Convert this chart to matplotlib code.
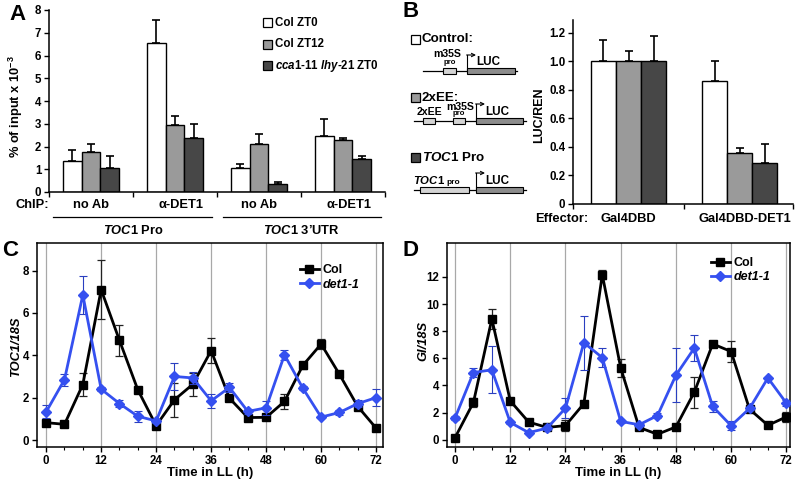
import numpy as np
import matplotlib
matplotlib.use('Agg')
import matplotlib.pyplot as plt
from matplotlib.patches import Rectangle
from matplotlib import transforms
from matplotlib.ticker import MultipleLocator, FixedLocator, FuncFormatter

plt.rcParams['font.family'] = ['Liberation Sans', 'DejaVu Sans']
plt.rcParams['font.weight'] = 'bold'
plt.rcParams['axes.labelweight'] = 'bold'
plt.rcParams['mathtext.fontset'] = 'custom'
plt.rcParams['mathtext.rm'] = 'Liberation Sans:bold'
plt.rcParams['mathtext.it'] = 'Liberation Sans:italic:bold'
plt.rcParams['mathtext.bf'] = 'Liberation Sans:bold'

# ---- data: panel A (ChIP) ----
chip_labels = ['no Ab', 'α-DET1', 'no Ab', 'α-DET1']
col_zt0 = [1.37, 6.53, 1.06, 2.47]
col_zt0_err = [0.49, 1.03, 0.19, 0.73]
col_zt12 = [1.76, 2.94, 2.13, 2.28]
col_zt12_err = [0.34, 0.39, 0.41, 0.10]
cca_zt0 = [1.06, 2.38, 0.37, 1.44]
cca_zt0_err = [0.51, 0.60, 0.07, 0.16]

# ---- data: panel B (LUC/REN) ----
effectors = ['Gal4DBD', 'Gal4DBD-DET1']
luc_control = [1.0, 0.86]
luc_control_err = [0.15, 0.14]
luc_2xee = [1.0, 0.357]
luc_2xee_err = [0.07, 0.035]
luc_toc1 = [1.0, 0.288]
luc_toc1_err = [0.18, 0.13]

# ---- data: panels C and D (time courses) ----
time_ll = [0, 4, 8, 12, 16, 20, 24, 28, 32, 36, 40, 44, 48, 52, 56, 60, 64, 68, 72]
toc1_col = [0.82, 0.74, 2.62, 7.1, 4.7, 2.37, 0.68, 1.9, 2.63, 4.22, 1.97, 1.06, 1.07, 1.82, 3.52, 4.53, 3.1, 1.58, 0.56]
toc1_col_err = [0.1, 0.08, 0.55, 1.4, 0.72, 0.12, 0.1, 0.8, 0.55, 0.6, 0.15, 0.1, 0.1, 0.35, 0.15, 0.22, 0.1, 0.15, 0.1]
toc1_det1 = [1.33, 2.85, 6.85, 2.4, 1.72, 1.12, 0.9, 3.0, 2.93, 1.85, 2.48, 1.35, 1.52, 4.02, 2.45, 1.08, 1.3, 1.72, 2.0]
toc1_det1_err = [0.3, 0.28, 0.9, 0.1, 0.15, 0.25, 0.1, 0.65, 0.28, 0.32, 0.22, 0.1, 0.33, 0.25, 0.1, 0.05, 0.1, 0.15, 0.4]
gi_col = [0.15, 2.75, 8.9, 2.86, 1.3, 0.9, 1.04, 2.66, 12.17, 5.3, 0.9, 0.4, 0.94, 3.5, 7.06, 6.5, 2.25, 1.06, 1.68]
gi_col_err = [0.1, 0.35, 0.75, 0.1, 0.1, 0.1, 0.4, 0.1, 0.35, 0.65, 0.1, 0.1, 0.1, 1.15, 0.1, 0.8, 0.1, 0.1, 0.35]
gi_det1 = [1.6, 4.95, 5.15, 1.27, 0.52, 0.85, 2.32, 7.15, 6.05, 1.35, 1.1, 1.78, 4.75, 6.75, 2.45, 1.03, 2.3, 4.55, 2.7]
gi_det1_err = [0.15, 0.35, 1.72, 0.1, 0.1, 0.1, 0.72, 2.0, 0.7, 0.1, 0.1, 0.15, 2.0, 0.95, 0.4, 0.35, 0.1, 0.1, 0.25]

WHITE, GRAY, DARK = 'white', '#9a9a9a', '#474747'
BLUE = '#3550f0'
W, H = 800, 479
TICK_FS = 8.3

fig = plt.figure(figsize=(8, 4.79), dpi=100)


def px_axes(l, t, r, b):
    return [l / W, 1 - b / H, (r - l) / W, (b - t) / H]


# overlay in pixel coordinates for annotations / schematic
ov = fig.add_axes([0, 0, 1, 1], zorder=10)
ov.set_xlim(0, W)
ov.set_ylim(H, 0)
ov.axis('off')
ov.patch.set_alpha(0)


def bar_style(ax):
    for s in ['top', 'right']:
        ax.spines[s].set_visible(False)
    for s in ['left', 'bottom']:
        ax.spines[s].set_linewidth(1.1)
    ax.tick_params(direction='out', length=3.5, width=1.0, labelsize=TICK_FS, pad=2)


# ---------------- panel A ----------------
axA = fig.add_axes(px_axes(49, 10, 385, 192))
bar_style(axA)
xa = np.arange(len(chip_labels))
bw = 0.226
for off, vals, errs, c in [(-bw, col_zt0, col_zt0_err, WHITE),
                           (0, col_zt12, col_zt12_err, GRAY),
                           (bw, cca_zt0, cca_zt0_err, DARK)]:
    axA.bar(xa + off, vals, bw, color=c, edgecolor='black', linewidth=1.0, zorder=2)
    axA.errorbar(xa + off, vals, yerr=[np.zeros(len(vals)), errs], fmt='none',
                 ecolor='black', elinewidth=1.2, capsize=2.8, capthick=1.2, zorder=1)
axA.set_xlim(-0.5, 3.5)
axA.set_ylim(0, 8)
axA.set_yticks(range(0, 9))
axA.xaxis.set_major_locator(FixedLocator([-0.5, 0.5, 1.5, 2.5, 3.5]))
axA.set_xticklabels([])
axA.set_ylabel('% of input x 10$^{-3}$', fontsize=9.3)
axA.yaxis.set_label_coords(-0.071, 0.47)

trA = transforms.blended_transform_factory(axA.transData, ov.transData)
ov.text(16, 205, 'ChIP:', fontsize=9.3, va='center', ha='left')
for i, lab in enumerate(chip_labels):
    ov.text(xa[i] + (0.07 if i % 2 else 0), 205, lab, transform=trA, fontsize=9.3,
            ha='center', va='center')
ov.plot([53, 212], [217, 217], color='black', lw=0.9)
ov.plot([223, 381], [217, 217], color='black', lw=0.9)
ov.text(0.5, 230, r'$\mathit{TOC1}$ Pro', transform=trA, fontsize=9.3, ha='center', va='center')
ov.text(2.5, 230, r'$\mathit{TOC1}$ 3’UTR', transform=trA, fontsize=9.3, ha='center', va='center')

# legend A
leg_rows = [(WHITE, 'Col ZT0'), (GRAY, 'Col ZT12'),
            (DARK, r'$\mathit{cca1}$-$\mathit{11}$ $\mathit{lhy}$-$\mathit{21}$ ZT0')]
for k, (c, lab) in enumerate(leg_rows):
    yc = 22.5 + 21.7 * k
    ov.add_patch(Rectangle((263, yc - 4.5), 9, 9, facecolor=c, edgecolor='black', lw=0.9))
    ov.text(275, yc, lab, fontsize=8.3, va='center', ha='left')

ov.text(9, 14, 'A', fontsize=16, va='center', ha='left')

# ---------------- panel B ----------------
axB = fig.add_axes(px_axes(573, 20, 793, 204))
bar_style(axB)
xb = np.arange(len(effectors))
for off, vals, errs, c in [(-bw, luc_control, luc_control_err, WHITE),
                           (0, luc_2xee, luc_2xee_err, GRAY),
                           (bw, luc_toc1, luc_toc1_err, DARK)]:
    axB.bar(xb + off, vals, bw, color=c, edgecolor='black', linewidth=1.0, zorder=2)
    axB.errorbar(xb + off, vals, yerr=[np.zeros(len(vals)), errs], fmt='none',
                 ecolor='black', elinewidth=1.2, capsize=2.8, capthick=1.2, zorder=1)
axB.set_xlim(-0.5, 1.48)
axB.set_ylim(0, 1.29)
axB.set_yticks([0, 0.2, 0.4, 0.6, 0.8, 1.0, 1.2])
axB.yaxis.set_major_formatter(FuncFormatter(lambda v, p: '0' if v == 0 else f'{v:.1f}'))
axB.xaxis.set_major_locator(FixedLocator([-0.5, 0.5, 1.48]))
axB.set_xticklabels([])
axB.set_ylabel('LUC/REN', fontsize=9)
axB.yaxis.set_label_coords(-0.125, 0.48)

trB = transforms.blended_transform_factory(axB.transData, ov.transData)
ov.text(535, 219, 'Effector:', fontsize=9.3, va='center', ha='left')
ov.text(0, 219, effectors[0], transform=trB, fontsize=9.3, va='center', ha='center')
ov.text(1.05, 219, effectors[1], transform=trB, fontsize=9.3, va='center', ha='center')

ov.text(403, 11, 'B', fontsize=16, va='center', ha='left')


# schematic
def promoter_arrow(x, ybase, ytop):
    ov.plot([x, x], [ybase, ytop], color='black', lw=0.8)
    ov.annotate('', xy=(x + 9, ytop), xytext=(x - 0.4, ytop),
                arrowprops=dict(arrowstyle='->', lw=0.8, color='black',
                                shrinkA=0, shrinkB=0, mutation_scale=6))


def box(x0, x1, yc, c):
    ov.add_patch(Rectangle((x0, yc - 3), x1 - x0, 6, facecolor=c, edgecolor='black', lw=0.8, zorder=3))


LIGHT = '#d4d4d4'
LUCC = '#8c8c8c'
# key squares
for yc, c, lab in [(39, WHITE, 'Control:'), (97.5, GRAY, '2xEE:'), (157.5, DARK, r'$\mathit{TOC1}$ Pro')]:
    ov.add_patch(Rectangle((411, yc - 4.5), 9, 9, facecolor=c, edgecolor='black', lw=0.9))
    ov.text(422, yc, lab, fontsize=9.6, va='center', ha='left')

# row 1: control
ov.plot([423, 517], [71, 71], color='black', lw=0.9)
box(443, 456, 71, LIGHT)
ov.text(447, 54, 'm35S', fontsize=7.6, ha='center', va='center')
ov.text(449.5, 62.5, 'pro', fontsize=5.6, ha='center', va='center')
promoter_arrow(467, 71, 55)
box(467, 515, 71, LUCC)
ov.text(488, 61.5, 'LUC', fontsize=8.4, ha='center', va='center')

# row 2: 2xEE
ov.plot([414, 526], [121, 121], color='black', lw=0.9)
box(423, 435, 121, LIGHT)
ov.text(429, 112, '2xEE', fontsize=7.6, ha='center', va='center')
box(453, 465, 121, LIGHT)
ov.text(460, 106.5, 'm35S', fontsize=7.6, ha='center', va='center')
ov.text(459, 113.5, 'pro', fontsize=5.6, ha='center', va='center')
promoter_arrow(476, 121, 104)
box(476, 523, 121, LUCC)
ov.text(497, 112, 'LUC', fontsize=8.4, ha='center', va='center')

# row 3: TOC1 promoter
ov.plot([414, 526], [190, 190], color='black', lw=0.9)
box(420, 469, 190, LIGHT)
ov.text(445, 180.5, r'$\mathit{TOC1}$', fontsize=8.2, ha='right', va='center')
ov.text(446, 182, 'pro', fontsize=6, ha='left', va='center')
promoter_arrow(476, 190, 173)
box(476, 523, 190, LUCC)
ov.text(497, 180.5, 'LUC', fontsize=8.4, ha='center', va='center')


# ---------------- panels C & D ----------------
def time_panel(ax, col, col_err, det, det_err, ylim, yticks, ylabel, lab_xy, legxy):
    for s in ax.spines.values():
        s.set_linewidth(1.1)
    for xv in range(0, 73, 12):
        ax.axvline(xv, color='#a8a8a8', lw=0.9, zorder=0)
    ec = ax.errorbar(time_ll, col, yerr=col_err, color='black', lw=2.0, marker='s',
                     ms=6, ecolor='#222222', elinewidth=0.9, capsize=2.8, capthick=0.9, zorder=3)
    ed = ax.errorbar(time_ll, det, yerr=det_err, color=BLUE, lw=2.0, marker='D',
                     ms=5, ecolor='#2a3fc0', elinewidth=0.8, capsize=2.8, capthick=0.8, zorder=4)
    ax.set_ylim(*ylim)
    ax.set_yticks(yticks)
    ax.xaxis.set_major_locator(MultipleLocator(12))
    ax.xaxis.set_minor_locator(MultipleLocator(4))
    ax.tick_params(axis='both', which='major', direction='out', length=3.5, width=1.0,
                   labelsize=TICK_FS, pad=2, top=False, right=False)
    ax.tick_params(axis='x', which='minor', direction='out', length=2, width=0.8, top=False)
    ax.set_xlabel('Time in LL (h)', fontsize=9.5, labelpad=0)
    ax.set_ylabel(ylabel, fontsize=9.3, fontstyle='italic')
    leg = ax.legend([ec.lines[0], ed.lines[0]], ['Col', 'det1-1'], loc='upper left',
                    bbox_to_anchor=legxy, bbox_transform=ov.transData, frameon=False,
                    borderaxespad=0, borderpad=0, handlelength=1.5, handletextpad=0.3,
                    labelspacing=0.2, fontsize=9)
    leg.get_texts()[1].set_fontstyle('italic')
    ov.text(lab_xy[0], lab_xy[1], lab_xy[2], fontsize=16, va='center', ha='left')


axC = fig.add_axes(px_axes(37, 243, 383, 447))
axC.set_xlim(-2, 73.5)
time_panel(axC, toc1_col, toc1_col_err, toc1_det1, toc1_det1_err, (-0.33, 9.3),
           [0, 2, 4, 6, 8], 'TOC1/18S', (2, 251, 'C'), (300, 264))
axC.yaxis.set_label_coords(-0.043, 0.49)

axD = fig.add_axes(px_axes(447, 243, 790, 447))
axD.set_xlim(-1.75, 72.8)
time_panel(axD, gi_col, gi_col_err, gi_det1, gi_det1_err, (-0.54, 14.5),
           [0, 2, 4, 6, 8, 10, 12], 'GI/18S', (402, 251, 'D'), (711, 257))
axD.yaxis.set_label_coords(-0.05, 0.52)

fig.savefig('out.png', dpi=100)
